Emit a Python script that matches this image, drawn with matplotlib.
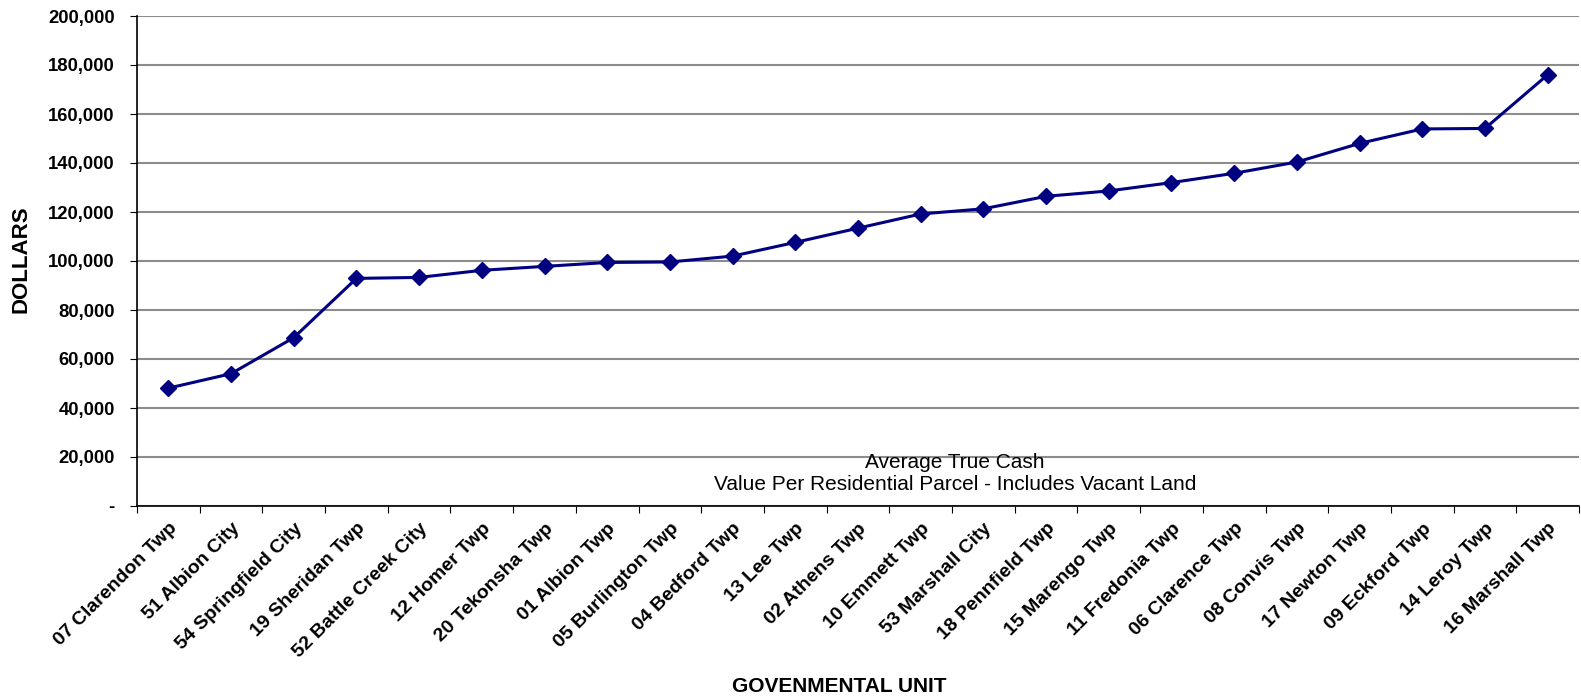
import matplotlib.pyplot as plt
import matplotlib.ticker as mticker
import numpy as np

units = ['07 Clarendon Twp', '51 Albion City', '54 Springfield City', '19 Sheridan Twp',
         '52 Battle Creek City', '12 Homer Twp', '20 Tekonsha Twp', '01 Albion Twp',
         '05 Burlington Twp', '04 Bedford Twp', '13 Lee Twp', '02 Athens Twp',
         '10 Emmett Twp', '53 Marshall City', '18 Pennfield Twp', '15 Marengo Twp',
         '11 Fredonia Twp', '06 Clarence Twp', '08 Convis Twp', '17 Newton Twp',
         '09 Eckford Twp', '14 Leroy Twp', '16 Marshall Twp']
values = [48100, 54000, 68700, 92900, 93300, 96200, 97800, 99400,
          99600, 102000, 107600, 113400, 119200, 121300, 126400, 128600,
          132000, 135800, 140400, 148000, 153900, 154100, 176000]
y_ticks = [0, 20000, 40000, 60000, 80000, 100000, 120000, 140000, 160000, 180000, 200000]

plt.rcParams['font.family'] = ['Liberation Sans', 'DejaVu Sans']

fig = plt.figure(figsize=(15.81, 6.99), dpi=100)
ax = fig.add_axes([137 / 1581, 1 - 506 / 699, (1579 - 137) / 1581, (506 - 16) / 699])

x = np.arange(len(units)) + 0.5
ax.plot(x, values, color='#000080', lw=2.2, marker='D', markersize=8.5, zorder=3)

ax.set_xlim(0, len(units))
ax.set_ylim(0, 200000)

ax.set_yticks(y_ticks)
ax.yaxis.set_major_formatter(mticker.FuncFormatter(lambda v, p: '-' if v == 0 else f'{int(v):,}'))
ax.grid(axis='y', color='#8c8c8c', lw=1.5)
ax.set_axisbelow(True)

ax.set_xticks(np.arange(len(units) + 1))
ax.set_xticklabels([])
ax.set_xticks(x, minor=True)
ax.set_xticklabels(units, minor=True, rotation=45, ha='right', va='top',
                   rotation_mode='anchor', fontsize=14, fontweight='bold')
ax.tick_params(axis='x', which='minor', length=0, pad=10)
ax.tick_params(axis='x', which='major', length=5, direction='out')
ax.tick_params(axis='y', length=5, direction='out', labelsize=13.3, pad=11)
for lab in ax.get_yticklabels():
    lab.set_fontweight('bold')

for s in ['top', 'right']:
    ax.spines[s].set_visible(False)
ax.spines['left'].set_linewidth(1.2)
ax.spines['bottom'].set_linewidth(1.2)

fig.text(21 / 1581, 1 - 259 / 699, 'DOLLARS', rotation=90, ha='center', va='center',
         fontsize=16, fontweight='bold')
fig.text(839 / 1581, 1 - 687 / 699, 'GOVENMENTAL UNIT', ha='center', va='center',
         fontsize=15, fontweight='bold')
fig.text(955 / 1581, 1 - 473 / 699, 'Average True Cash\nValue Per Residential Parcel - Includes Vacant Land',
         ha='center', va='center', fontsize=15, linespacing=1.2)

fig.savefig('out.png', dpi=100)
